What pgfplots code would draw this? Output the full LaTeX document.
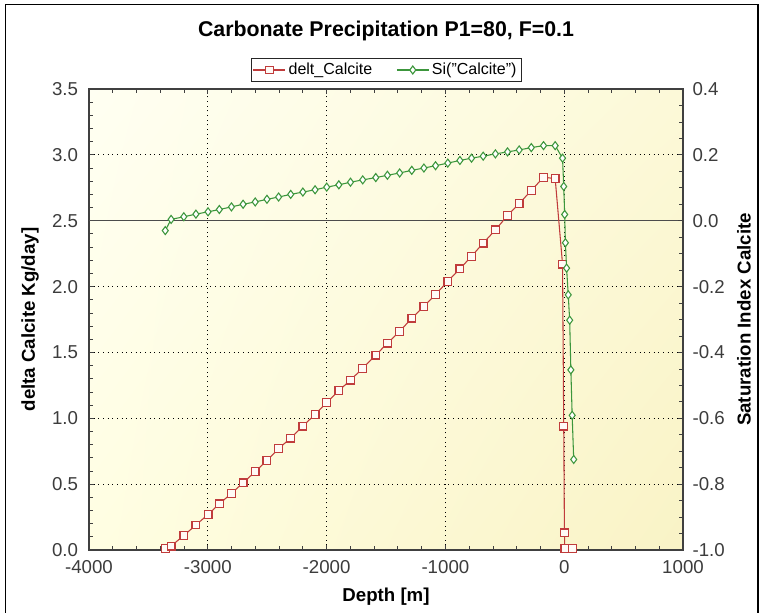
\documentclass[border=0pt]{standalone}
\usepackage{pgfplots}
\pgfplotsset{compat=1.18}
\usetikzlibrary{shadings}
\usepackage{fontspec}
\setmainfont{Liberation Sans}
\definecolor{redc}{RGB}{192,60,60}
\definecolor{greenc}{RGB}{60,150,60}
\definecolor{ticktext}{RGB}{60,60,60}
\definecolor{bgA}{RGB}{255,255,242}
\definecolor{bgB}{RGB}{252,249,216}
\definecolor{bgC}{RGB}{255,254,226}
\definecolor{bgD}{RGB}{249,243,198}
\definecolor{markfill}{RGB}{255,250,246}
\begin{document}
\begin{tikzpicture}
\useasboundingbox (0,0) rectangle (571.5pt,459pt);
\draw[black, line width=1.1pt] (4pt,-2pt) -- (4pt,455.5pt) -- (568.5pt,455.5pt) -- (568.5pt,-2pt);
\pgfplotsset{
 common/.style={
  scale only axis, width=445.5pt, height=345.75pt,
  at={(66.75pt,46.5pt)}, anchor=south west,
  xmin=-4000, xmax=1000,
  /pgf/number format/assume math mode=true,
  tick label style={font=\fontsize{14}{16}\selectfont, color=ticktext},
  tick style={black!75, line width=0.6pt},
  major tick length=4pt, minor tick length=3pt,
  tick align=inside,
  axis line style={black!75, line width=0.8pt},
  clip=false,
  label style={font=\bfseries\fontsize{14}{16}\selectfont},
 }
}
\begin{axis}[common,
  axis background/.style={shade, upper left=bgA, upper right=bgB, lower left=bgC, lower right=bgD},
  ymin=0, ymax=3.5,
  xtick={-4000,-3000,-2000,-1000,0,1000}, minor x tick num=4,
  ytick={0,0.5,1,1.5,2,2.5,3,3.5}, minor y tick num=4,
  xtick pos=both, ytick pos=left,
  yticklabel style={/pgf/number format/fixed, /pgf/number format/fixed zerofill, /pgf/number format/precision=1, anchor=east, inner sep=0pt, xshift=-8pt},
  xticklabel style={/pgf/number format/1000 sep={}, anchor=north, inner sep=0pt, yshift=-8pt},
  grid=major, major grid style={black, dash pattern=on 0.7pt off 2.8pt, line width=0.6pt},
  title={Carbonate Precipitation P1=80, F=0.1},
  every axis title shift=0pt,
  title style={at={(0.5,1.1258)}, anchor=center, font=\bfseries\fontsize{16}{19}\selectfont},
  xlabel={Depth [m]},
  xlabel style={at={(0.5,-0.102)}, anchor=center},
  ylabel={delta Calcite Kg/day]},
  ylabel style={at={(-0.0993,0.5)}, anchor=center, rotate=0},
  legend style={at={(0.5,1.0412)}, anchor=center, draw=black!85, fill=white,
    font=\fontsize{12}{14}\selectfont, legend columns=2,
    /tikz/every even column/.append style={column sep=16pt},
    inner sep=1.5pt},
  legend image code/.code={\draw[mark repeat=2,mark phase=2,#1] plot coordinates {(0pt,0pt) (12pt,0pt) (24pt,0pt)};},
]
\draw[black!70, line width=1pt] (axis cs:-4000,2.5) -- (axis cs:1000,2.5);
\addplot[redc, line width=0.8pt, mark=square*, mark size=2.9pt, mark options={solid, line width=0.9pt, fill=markfill}] coordinates {
(-3358,0.01) (-3309,0.03) (-3202,0.11) (-3100,0.19) (-2998,0.27) (-2903,0.35)
(-2801,0.43) (-2703,0.51) (-2601,0.595) (-2502,0.68) (-2404,0.77) (-2302,0.85)
(-2200,0.94) (-2097,1.03) (-1999,1.12) (-1897,1.21) (-1799,1.29) (-1696,1.38)
(-1586,1.48) (-1488,1.57) (-1385,1.66) (-1283,1.76) (-1181,1.85) (-1083,1.94)
(-980,2.04) (-878,2.135) (-780,2.23) (-682,2.33) (-579,2.43) (-477,2.54)
(-379,2.63) (-277,2.73) (-174,2.83) (-76,2.82) (-14,2.17) (-4,0.94)
(2,0.13) (5,0.01) (70,0.01)
};
\addlegendentry{delt\_Calcite}
\addlegendimage{greenc, line width=0.8pt, mark=diamond*, mark size=3pt, mark options={solid, line width=0.8pt, fill=white}}
\addlegendentry{Si("Calcite")}
\end{axis}
\begin{axis}[common,
  ymin=-1, ymax=0.4,
  axis y line*=right, axis x line=none,
  ytick={-1,-0.8,-0.6,-0.4,-0.2,0,0.2,0.4}, minor y tick num=3,
  yticklabel style={/pgf/number format/fixed, /pgf/number format/fixed zerofill, /pgf/number format/precision=1, anchor=west, inner sep=0pt, xshift=7pt},
  ylabel={Saturation Index Calcite},
  ylabel style={at={(1.1027,0.5)}, anchor=center, rotate=0},
]
\addplot[greenc, line width=0.8pt, mark=diamond*, mark size=3pt, mark options={solid, line width=0.8pt, fill=white}] coordinates {
(-3358,-0.03) (-3309,0.004) (-3202,0.012) (-3100,0.020) (-2998,0.027) (-2903,0.034)
(-2801,0.042) (-2703,0.050) (-2601,0.057) (-2502,0.065) (-2404,0.072) (-2302,0.080)
(-2200,0.087) (-2097,0.094) (-1999,0.102) (-1897,0.109) (-1799,0.117) (-1696,0.124)
(-1586,0.131) (-1488,0.138) (-1385,0.145) (-1283,0.153) (-1181,0.160) (-1083,0.167)
(-980,0.175) (-878,0.183) (-780,0.190) (-682,0.196) (-579,0.203) (-477,0.209)
(-379,0.215) (-277,0.222) (-174,0.228) (-76,0.228) (-14,0.19) (-4,0.104)
(4,0.019) (10,-0.067) (20,-0.144) (34,-0.225) (46,-0.302) (56,-0.453)
(67,-0.591) (80,-0.725)
};
\end{axis}
\end{tikzpicture}
\end{document}
